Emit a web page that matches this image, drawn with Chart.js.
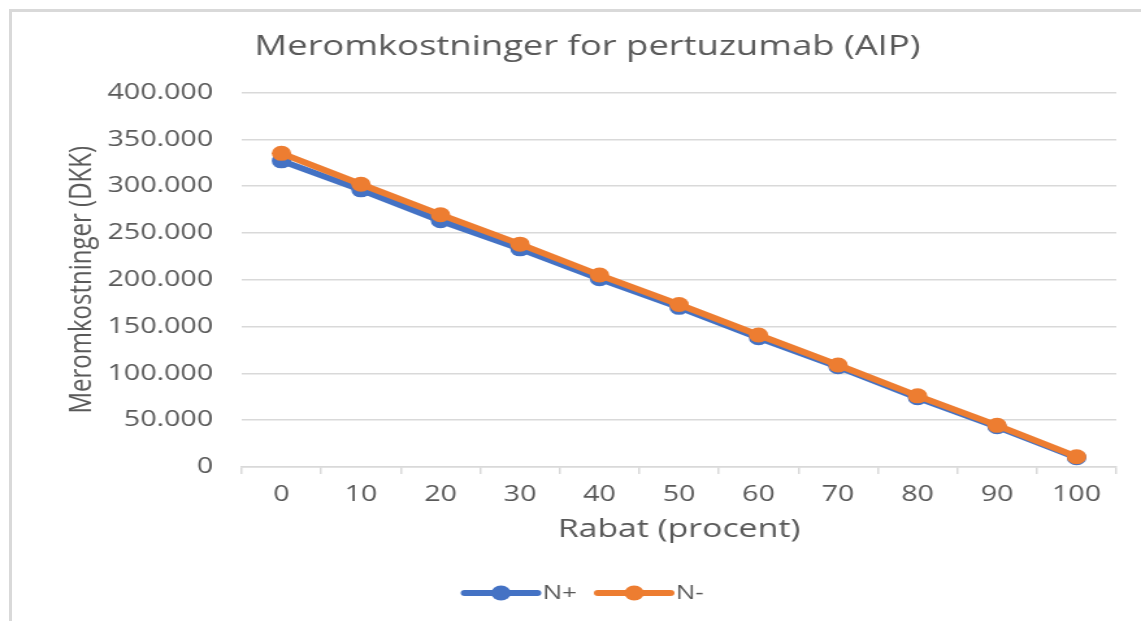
<!DOCTYPE html>
<html>
<head>
<meta charset="utf-8">
<script src="https://cdn.jsdelivr.net/npm/chart.js@4.4.1/dist/chart.umd.min.js"></script>
<style>
  body { margin: 0; background: #fff; }
  #frame {
    position: absolute; left: 9px; top: 9px; width: 1132px; height: 612px;
    border-left: 3px solid #d9d9d9; border-top: 3px solid #d9d9d9;
  }
  #wrap {
    position: absolute; left: 0; top: 0; width: 878px; height: 621px;
    transform-origin: 0 0;
  }
</style>
</head>
<body>
<div id="frame"></div>
<div id="wrap"><canvas id="chart" width="878" height="621"></canvas></div>
<script>
// the reference picture is stretched sideways, so the chart is drawn narrow and scaled in x
const stretch = 1141 / 878;
document.getElementById("wrap").style.transform = "scaleX(" + stretch + ")";

const rabat = ["0", "10", "20", "30", "40", "50", "60", "70", "80", "90", "100"];
const nPlus = [327000, 296000, 263000, 233000, 201000, 170500, 138000, 107000, 74000, 43000, 10000];
const nMinus = [335000, 302000, 269500, 238000, 205000, 173500, 141000, 109000, 76000, 44500, 11000];
const yTicks = [0, 50000, 100000, 150000, 200000, 250000, 300000, 350000, 400000];

const blue = "#4472C4";
const orange = "#ED7D31";
const textColor = "#595959";
const gridColor = "#d9d9d9";
const font = "'Open Sans', sans-serif";
const legendSize = 20;

function danish(v) {
  return String(v).replace(/\B(?=(\d{3})+(?!\d))/g, ".");
}

// excel style legend symbol: a thick line with a dot in the middle
const legendSymbols = {
  id: "legendSymbols",
  afterDraw(chart) {
    const legend = chart.legend;
    const ctx = chart.ctx;
    legend.legendItems.forEach((item, i) => {
      const box = legend.legendHitBoxes[i];
      const color = chart.data.datasets[item.datasetIndex].borderColor;
      const cy = box.top + legendSize / 2;
      const x0 = box.left - 5;
      const x1 = box.left + 51;
      ctx.save();
      ctx.strokeStyle = color;
      ctx.fillStyle = color;
      ctx.lineWidth = 6;
      ctx.lineCap = "round";
      ctx.beginPath();
      ctx.moveTo(x0, cy);
      ctx.lineTo(x1, cy);
      ctx.stroke();
      ctx.beginPath();
      ctx.arc((x0 + x1) / 2, cy, 7.5, 0, Math.PI * 2);
      ctx.fill();
      ctx.restore();
    });
  }
};

new Chart(document.getElementById("chart"), {
  type: "line",
  data: {
    labels: rabat,
    datasets: [
      {
        label: "N+",
        data: nPlus,
        borderColor: blue,
        backgroundColor: blue,
        borderWidth: 6,
        pointRadius: 7.5,
        pointBorderWidth: 0,
        order: 1
      },
      {
        label: "N-",
        data: nMinus,
        borderColor: orange,
        backgroundColor: orange,
        borderWidth: 6,
        pointRadius: 7.5,
        pointBorderWidth: 0,
        order: 0
      }
    ]
  },
  plugins: [legendSymbols],
  options: {
    responsive: false,
    animation: false,
    layout: { padding: { left: 45, right: 19, top: 0, bottom: 8 } },
    plugins: {
      tooltip: { enabled: false },
      title: {
        display: true,
        text: "Meromkostninger for pertuzumab (AIP)",
        color: textColor,
        font: { family: font, size: 28, weight: "normal" },
        padding: { top: 30.4, bottom: 28.5 }
      },
      legend: {
        position: "bottom",
        labels: {
          usePointStyle: true,
          pointStyleWidth: 45,
          padding: 21,
          color: textColor,
          font: { family: font, size: legendSize },
          generateLabels: chart => chart.data.datasets.map((ds, i) => ({
            text: ds.label,
            pointStyle: "line",
            fillStyle: "rgba(0,0,0,0)",
            strokeStyle: "rgba(0,0,0,0)",
            lineWidth: 1,
            fontColor: textColor,
            datasetIndex: i
          }))
        }
      }
    },
    scales: {
      x: {
        offset: true,
        grid: {
          offset: true,
          drawOnChartArea: false,
          drawTicks: true,
          tickLength: 7,
          color: gridColor,
          lineWidth: 1.5
        },
        border: { display: true, color: gridColor, width: 1.5 },
        ticks: { color: textColor, font: { family: font, size: 22 }, padding: 8 },
        title: {
          display: true,
          text: "Rabat (procent)",
          color: textColor,
          font: { family: font, size: 26 },
          padding: { top: 0, bottom: 16.4 }
        },
        afterFit: scale => { scale.height = 95; }
      },
      y: {
        min: 0,
        max: 400000,
        afterBuildTicks: scale => { scale.ticks = yTicks.map(v => ({ value: v })); },
        grid: { color: gridColor, lineWidth: 1.5, drawTicks: false },
        border: { display: false },
        ticks: {
          color: textColor,
          font: { family: font, size: 22 },
          padding: 22,
          callback: v => danish(v)
        },
        title: {
          display: true,
          text: "Meromkostninger (DKK)",
          color: textColor,
          font: { family: font, size: 24 },
          padding: { top: 3.6, bottom: 0 }
        },
        afterFit: scale => { scale.width = 141; }
      }
    }
  }
});
</script>
</body>
</html>
